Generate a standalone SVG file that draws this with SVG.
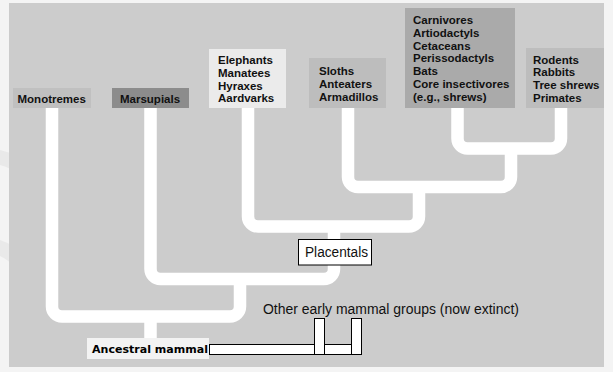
<svg xmlns="http://www.w3.org/2000/svg" width="613" height="372" viewBox="0 0 613 372">
<style>
.lbl{font-family:"Liberation Sans",Arial,sans-serif;font-weight:bold;font-size:11.5px;fill:#111}
.reg{font-family:"Liberation Sans",Arial,sans-serif;font-size:14px;fill:#111}
.branch{fill:none;stroke:#ffffff;stroke-width:12.5;stroke-linecap:butt}
.ol{fill:#ffffff;stroke:#000000;stroke-width:1}
</style>
<rect x="0" y="0" width="613" height="372" fill="#f4f4f4"/>
<path d="M0,150 Q40,160 60,190 L40,195 Q20,170 0,165 Z" fill="#e9e9e9"/>
<path d="M0,240 Q30,250 50,290 L35,295 Q15,262 0,256 Z" fill="#e9e9e9"/>
<rect x="9" y="3" width="595" height="364" fill="#cccccc"/>
<g id="connectors">
<path class="branch" d="M457.5,100 V138.5 A10,10 0 0 0 467.5,148.5 H551 A10,10 0 0 0 561,138.5 V100"/>
<path class="branch" d="M348,100 V177 A10,10 0 0 0 358,187 H501 A10,10 0 0 0 511,177 V148.5"/>
<path class="branch" d="M248,100 V216.5 A10,10 0 0 0 258,226.5 H409 A10,10 0 0 0 419,216.5 V187"/>
<path class="branch" d="M150.5,100 V269 A10,10 0 0 0 160.5,279 H324 A10,10 0 0 0 334,269 V226.5"/>
<path class="branch" d="M52,100 V306.5 A10,10 0 0 0 62,316.5 H230 A10,10 0 0 0 240,306.5 V279"/>
<path class="branch" d="M150.5,316.5 V340"/>
</g>
<g id="monotremes">
<rect x="13" y="88" width="78" height="20" fill="#c0c0c0"/>
<text class="lbl" x="17.5" y="102.5">Monotremes</text>
</g>
<g id="marsupials">
<rect x="112" y="88" width="77" height="20" fill="#8c8c8c"/>
<text class="lbl" x="120" y="102.5">Marsupials</text>
</g>
<g id="afrotheria">
<rect x="209" y="49" width="77" height="59" fill="#ebebeb"/>
<text class="lbl" x="218" y="64">Elephants</text>
<text class="lbl" x="218" y="76.8">Manatees</text>
<text class="lbl" x="218" y="89.6">Hyraxes</text>
<text class="lbl" x="218" y="102.4">Aardvarks</text>
</g>
<g id="xenarthra">
<rect x="309" y="58" width="77" height="50" fill="#bdbdbd"/>
<text class="lbl" x="319" y="75">Sloths</text>
<text class="lbl" x="319" y="88">Anteaters</text>
<text class="lbl" x="319" y="101">Armadillos</text>
</g>
<g id="laurasiatheria">
<rect x="405" y="8" width="110" height="100" fill="#aaaaaa"/>
<text class="lbl" x="413" y="24">Carnivores</text>
<text class="lbl" x="413" y="36.8">Artiodactyls</text>
<text class="lbl" x="413" y="49.6">Cetaceans</text>
<text class="lbl" x="413" y="62.4">Perissodactyls</text>
<text class="lbl" x="413" y="75.2">Bats</text>
<text class="lbl" x="413" y="88">Core insectivores</text>
<text class="lbl" x="413" y="100.8">(e.g., shrews)</text>
</g>
<g id="euarchontoglires">
<rect x="526" y="48" width="78" height="60" fill="#bdbdbd"/>
<text class="lbl" x="533" y="63.5">Rodents</text>
<text class="lbl" x="533" y="76.3">Rabbits</text>
<text class="lbl" x="533" y="89.1">Tree shrews</text>
<text class="lbl" x="533" y="101.9">Primates</text>
</g>
<g id="placentals">
<rect class="ol" x="298.5" y="239.5" width="73" height="25.5"/>
<text class="reg" x="305" y="256.5" textLength="63" lengthAdjust="spacingAndGlyphs">Placentals</text>
</g>
<g id="extinct">
<text class="reg" x="263" y="314" textLength="256" lengthAdjust="spacingAndGlyphs">Other early mammal groups (now extinct)</text>
<rect class="ol" x="209.5" y="344.5" width="142" height="10"/>
<rect class="ol" x="314.5" y="318.5" width="10" height="36"/>
<rect class="ol" x="351.5" y="318.5" width="10" height="36"/>
</g>
<g id="ancestral">
<rect x="87" y="338" width="122" height="21" fill="#f3f3f3"/>
<text x="92" y="353" font-family="'DejaVu Sans',sans-serif" font-weight="bold" font-size="11" fill="#000" textLength="116" lengthAdjust="spacingAndGlyphs">Ancestral mammal</text>
</g>
</svg>
